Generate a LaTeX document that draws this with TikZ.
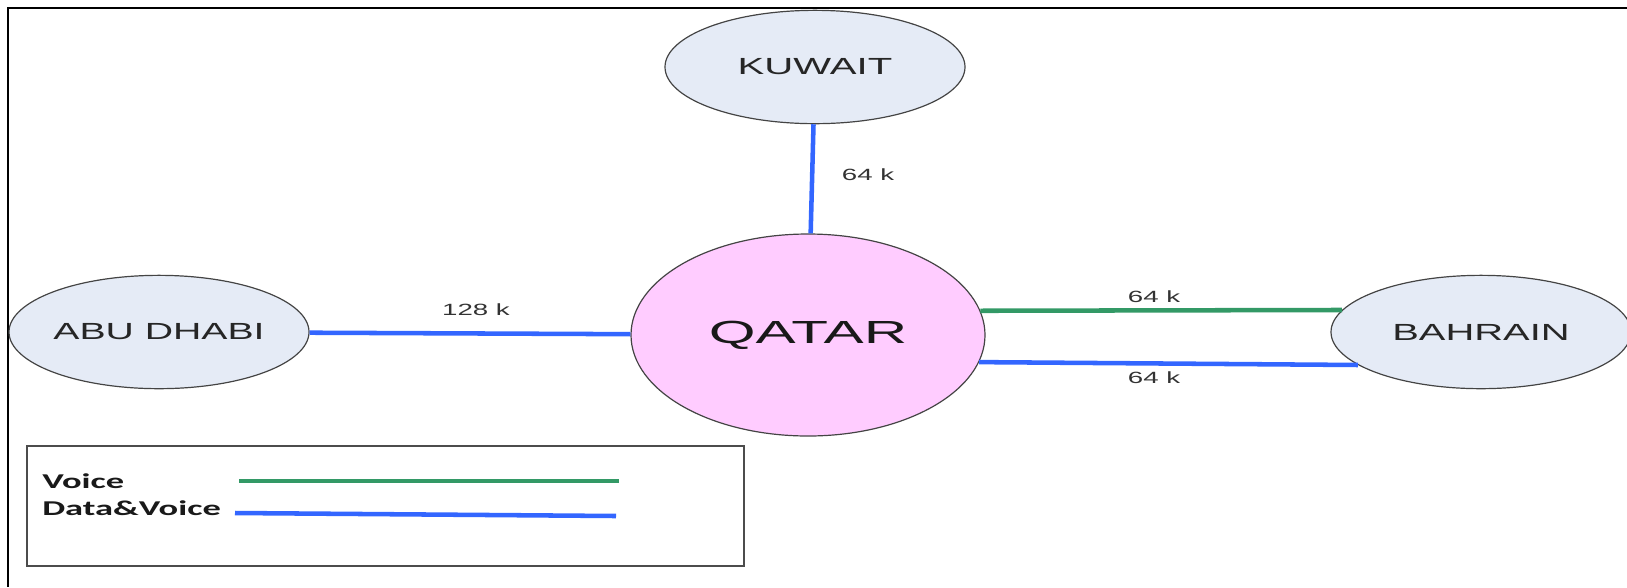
\documentclass[tikz,border=0pt]{standalone}
\usepackage{fontspec}
\usepackage{graphicx}
\setmainfont{Liberation Sans}
\newfontfamily\legfont{Carlito}
\usetikzlibrary{shapes.geometric}
\definecolor{cityfill}{HTML}{E5EBF6}
\definecolor{qatfill}{HTML}{FFCCFF}
\definecolor{linkblue}{HTML}{3366FF}
\definecolor{linkgreen}{HTML}{339966}
\definecolor{edgegray}{HTML}{444444}
\newcommand\hs[2]{\scalebox{#1}[1]{#2}}
\tikzset{
  city/.style={ellipse, draw=edgegray, line width=0.9pt, fill=cityfill, inner sep=0pt,
    minimum width=225pt, minimum height=85pt, font=\fontsize{17.5}{20}\selectfont, text=black!85},
  hub/.style={ellipse, draw=edgegray, line width=0.9pt, fill=qatfill, inner sep=0pt,
    minimum width=265.5pt, minimum height=151.5pt, font=\fontsize{24}{28}\selectfont, text=black!90},
  datalink/.style={draw=linkblue, line width=3.4pt},
  voicelink/.style={draw=linkgreen, line width=3.4pt},
  rate/.style={font=\fontsize{12.2}{14}\selectfont, text=black!80, inner sep=0pt},
  legtext/.style={font=\legfont\bfseries\fontsize{15.8}{18}\selectfont, text=black!90, inner sep=0pt, anchor=base west},
  frameline/.style={draw=black, line width=1.5pt},
  legbox/.style={draw=black!70, line width=1pt}
}
\begin{document}
\begin{tikzpicture}[x=0.75pt, y=-0.75pt]
\useasboundingbox (0,0) rectangle (1627,587);
% outer frame (top and left edges visible)
\coordinate (ftr) at (1627,7.5);
\coordinate (ftl) at (7.5,7.5);
\coordinate (fbl) at (7.5,587);
\draw[frameline] (ftr) -- (ftl) -- (fbl);

% nodes
\node[hub] (qat) at (808,335) {\hs{1.88}{QATAR}};
\node[city] (kuw) at (815,67) {\hs{1.72}{KUWAIT}};
\node[city] (abu) at (159,332) {\hs{1.68}{ABU DHABI}};
\node[city] (bah) at (1481,332) {\hs{1.71}{BAHRAIN}};

% links
\draw[datalink] (kuw) -- (qat);
\draw[datalink] (abu) -- (qat);
\draw[voicelink] (qat.8) -- (bah.171);
\draw[datalink] (qat.-9) -- (bah.195);

% rate labels
\node[rate] (lk) at (868,175) {\hs{1.7}{64 k}};
\node[rate] (la) at (476,310) {\hs{1.7}{128 k}};
\node[rate] (lbu) at (1154,297) {\hs{1.7}{64 k}};
\node[rate] (lbl) at (1154,378) {\hs{1.7}{64 k}};

% legend
\draw[legbox] (27,446) rectangle (744,566);
\node[legtext] (lv) at (42,488) {\hs{1.73}{Voice}};
\node[legtext] (ldv) at (42,515) {\hs{1.73}{Data\&Voice}};
\coordinate (g1) at (239,481);
\coordinate (g2) at (619,481);
\coordinate (b1) at (235,513);
\coordinate (b2) at (616,516);
\draw[voicelink] (g1) -- (g2);
\draw[datalink] (b1) -- (b2);
\end{tikzpicture}
\end{document}
